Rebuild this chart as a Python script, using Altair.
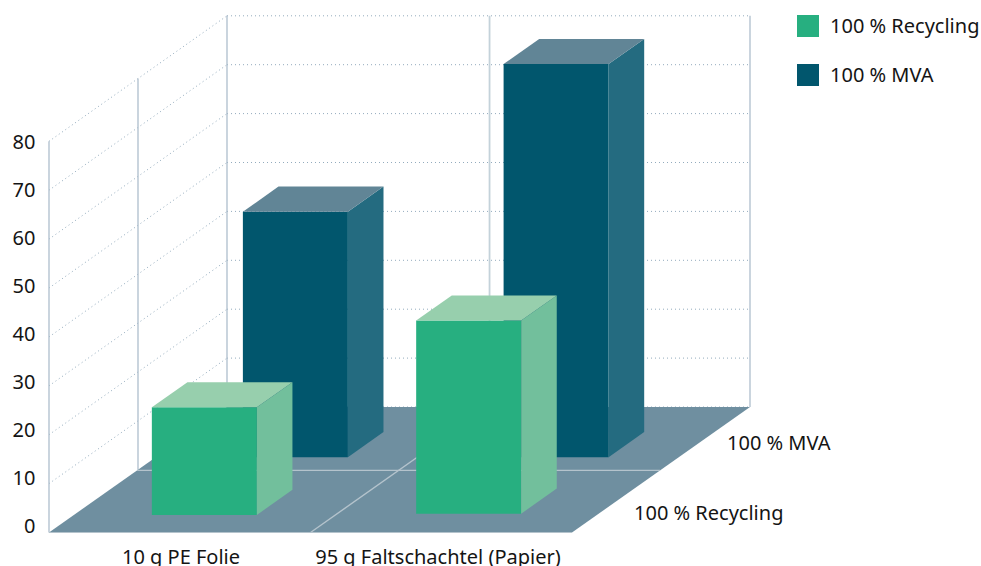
import altair as alt
import pandas as pd

# Chart data
categories = ["10 g PE Folie", "95 g Faltschachtel (Papier)"]
series = ["100 % Recycling", "100 % MVA"]
recycling_values = [22, 39.5]
mva_values = [50.2, 80.4]
tick_values = [0, 10, 20, 30, 40, 50, 60, 70, 80]

# Oblique projection of the box: category across, series into the depth, value upward
W, H = 981, 566
ORIGIN_X, ORIGIN_Y = 49, 532.5
CAT_SPAN = 261.5
DEPTH_DX, DEPTH_DY = 178, -125.5
UNIT = 4.89
BAR_WIDTH = 105 / CAT_SPAN
BAR_DEPTH = 0.2
FONT = "Noto Sans"
FONT_SIZE = 20
INK = "#141414"

# Placement of each bar in its category slot and along the depth axis
slot_offsets = {"100 % Recycling": [0.298, 0.302], "100 % MVA": [0.333, 0.33]}
depth_starts = {"100 % Recycling": [0.14, 0.15], "100 % MVA": [0.6, 0.6]}
face_colours = {
    "100 % Recycling": {"front": "#27AF80", "top": "#97CFAD", "side": "#72BF9C"},
    "100 % MVA": {"front": "#01566D", "top": "#618596", "side": "#246B80"},
}


def project(cat, depth, value=0.0):
    return (
        ORIGIN_X + cat * CAT_SPAN + depth * DEPTH_DX,
        ORIGIN_Y + depth * DEPTH_DY - value * UNIT,
    )


x_scale = alt.Scale(domain=[0, W], nice=False, zero=False)
y_scale = alt.Scale(domain=[H, 0], nice=False, zero=False)


def X(field="x"):
    return alt.X(f"{field}:Q", scale=x_scale, axis=None)


def Y(field="y"):
    return alt.Y(f"{field}:Q", scale=y_scale, axis=None)


def segment_layer(segments, color, width, dash=None):
    rows = []
    for i, (a, b) in enumerate(segments):
        rows.append({"x": a[0], "y": a[1], "seg": i, "o": 0})
        rows.append({"x": b[0], "y": b[1], "seg": i, "o": 1})
    kwargs = {"strokeDash": dash} if dash else {}
    return (
        alt.Chart(pd.DataFrame(rows))
        .mark_line(color=color, strokeWidth=width, clip=False, **kwargs)
        .encode(x=X(), y=Y(), detail="seg:N", order="o:Q")
    )


def text_layer(rows, align):
    return (
        alt.Chart(pd.DataFrame(rows))
        .mark_text(font=FONT, fontSize=FONT_SIZE, color=INK, align=align, baseline="middle")
        .encode(x=X(), y=Y(), text="label:N")
    )


# Floor parallelogram
floor_rows = []
a, b = project(0, 0), project(2, 0)
c, d = project(0, 1), project(2, 1)
floor_rows.append({"y": a[1], "x": a[0], "x2": b[0]})
floor_rows.append({"y": c[1], "x": c[0], "x2": d[0]})
floor = (
    alt.Chart(pd.DataFrame(floor_rows))
    .mark_area(orient="horizontal", color="#6F8FA0")
    .encode(y=Y(), x=X(), x2="x2:Q")
)

# Wall uprights
left_uprights = [(project(0, t), project(0, t, 80)) for t in (0, 0.5)]
back_uprights = [(project(t, 1), project(t, 1, 80)) for t in (0, 2)]
wall_lines = segment_layer(left_uprights + back_uprights, "#AEBECC", 1.3)
centre_upright = segment_layer([(project(1.004, 1), project(1.004, 1, 80))], "#C4D2DA", 1.8)

# Dotted value gridlines running along both walls
grid_segments = []
for v in tick_values[1:]:
    grid_segments.append((project(0, 0, v), project(0, 1, v)))
    grid_segments.append((project(0, 1, v), project(2, 1, v)))
grid_segments.append((project(0, 1), project(2, 1)))
grid = segment_layer(grid_segments, "#93ABBD", 1, dash=[1, 3])

# Pale division lines on the floor
floor_lines = segment_layer(
    [(project(0, 0.495), project(2, 0.495)), (project(1, 0), project(1, 1))], "#B4C3CC", 1.4
)
floor_edge = segment_layer([(project(0, 0), project(2, 0))], "#B4C3CC", 1)


def bar_layers(name, values):
    front, side, top = [], [], []
    for i, value in enumerate(values):
        cat = i + slot_offsets[name][i]
        depth = depth_starts[name][i]
        left, base = project(cat, depth)
        right, _ = project(cat + BAR_WIDTH, depth)
        _, roof = project(cat, depth, value)
        back_right, back_base = project(cat + BAR_WIDTH, depth + BAR_DEPTH)
        _, back_roof = project(cat, depth + BAR_DEPTH, value)
        back_left, _ = project(cat, depth + BAR_DEPTH)
        front += [
            {"bar": i, "x": left, "y": base, "y2": roof},
            {"bar": i, "x": right, "y": base, "y2": roof},
        ]
        side += [
            {"bar": i, "x": right, "y": base, "y2": roof},
            {"bar": i, "x": back_right, "y": back_base, "y2": back_roof},
        ]
        top += [
            {"bar": i, "y": roof, "x": left, "x2": right},
            {"bar": i, "y": back_roof, "x": back_left, "x2": back_right},
        ]
    colours = face_colours[name]
    vertical = lambda rows, colour: (
        alt.Chart(pd.DataFrame(rows))
        .mark_area(orient="vertical", color=colour)
        .encode(x=X(), y=Y(), y2="y2:Q", detail="bar:N")
    )
    horizontal = (
        alt.Chart(pd.DataFrame(top))
        .mark_area(orient="horizontal", color=colours["top"])
        .encode(y=Y(), x=X(), x2="x2:Q", detail="bar:N")
    )
    return [vertical(front, colours["front"]), vertical(side, colours["side"]), horizontal]


# Text: value ticks, category labels, depth labels
tick_labels = text_layer(
    [{"x": 35.5, "y": 527 - v * 4.8, "label": str(v)} for v in tick_values], "right"
)
category_labels = text_layer(
    [
        {"x": 181, "y": 558, "label": categories[0]},
        {"x": 438, "y": 558, "label": categories[1]},
    ],
    "center",
)
depth_labels = text_layer(
    [
        {"x": 634, "y": 513.5, "label": series[0]},
        {"x": 727, "y": 443.5, "label": series[1]},
    ],
    "left",
)

# Legend
legend_rows = [
    {"x": 797, "x2": 819, "y": 15, "y2": 37, "colour": face_colours[series[0]]["front"]},
    {"x": 797, "x2": 819, "y": 64, "y2": 86, "colour": face_colours[series[1]]["front"]},
]
legend_swatches = (
    alt.Chart(pd.DataFrame(legend_rows))
    .mark_rect()
    .encode(
        x=X(), x2="x2:Q", y=Y(), y2="y2:Q",
        color=alt.Color("colour:N", scale=None, legend=None),
    )
)
legend_labels = text_layer(
    [
        {"x": 830, "y": 27, "label": series[0]},
        {"x": 830, "y": 76, "label": series[1]},
    ],
    "left",
)

chart = alt.layer(
    grid,
    wall_lines,
    centre_upright,
    floor,
    floor_edge,
    floor_lines,
    *bar_layers(series[1], mva_values),
    *bar_layers(series[0], recycling_values),
    tick_labels,
    category_labels,
    depth_labels,
    legend_swatches,
    legend_labels,
).properties(
    width=W,
    height=H,
    padding=0,
    autosize=alt.AutoSizeParams(type="none"),
    background="#FFFFFF",
).configure_view(stroke=None)

chart.save("out.html", embed_options={"renderer": "svg", "actions": False})
